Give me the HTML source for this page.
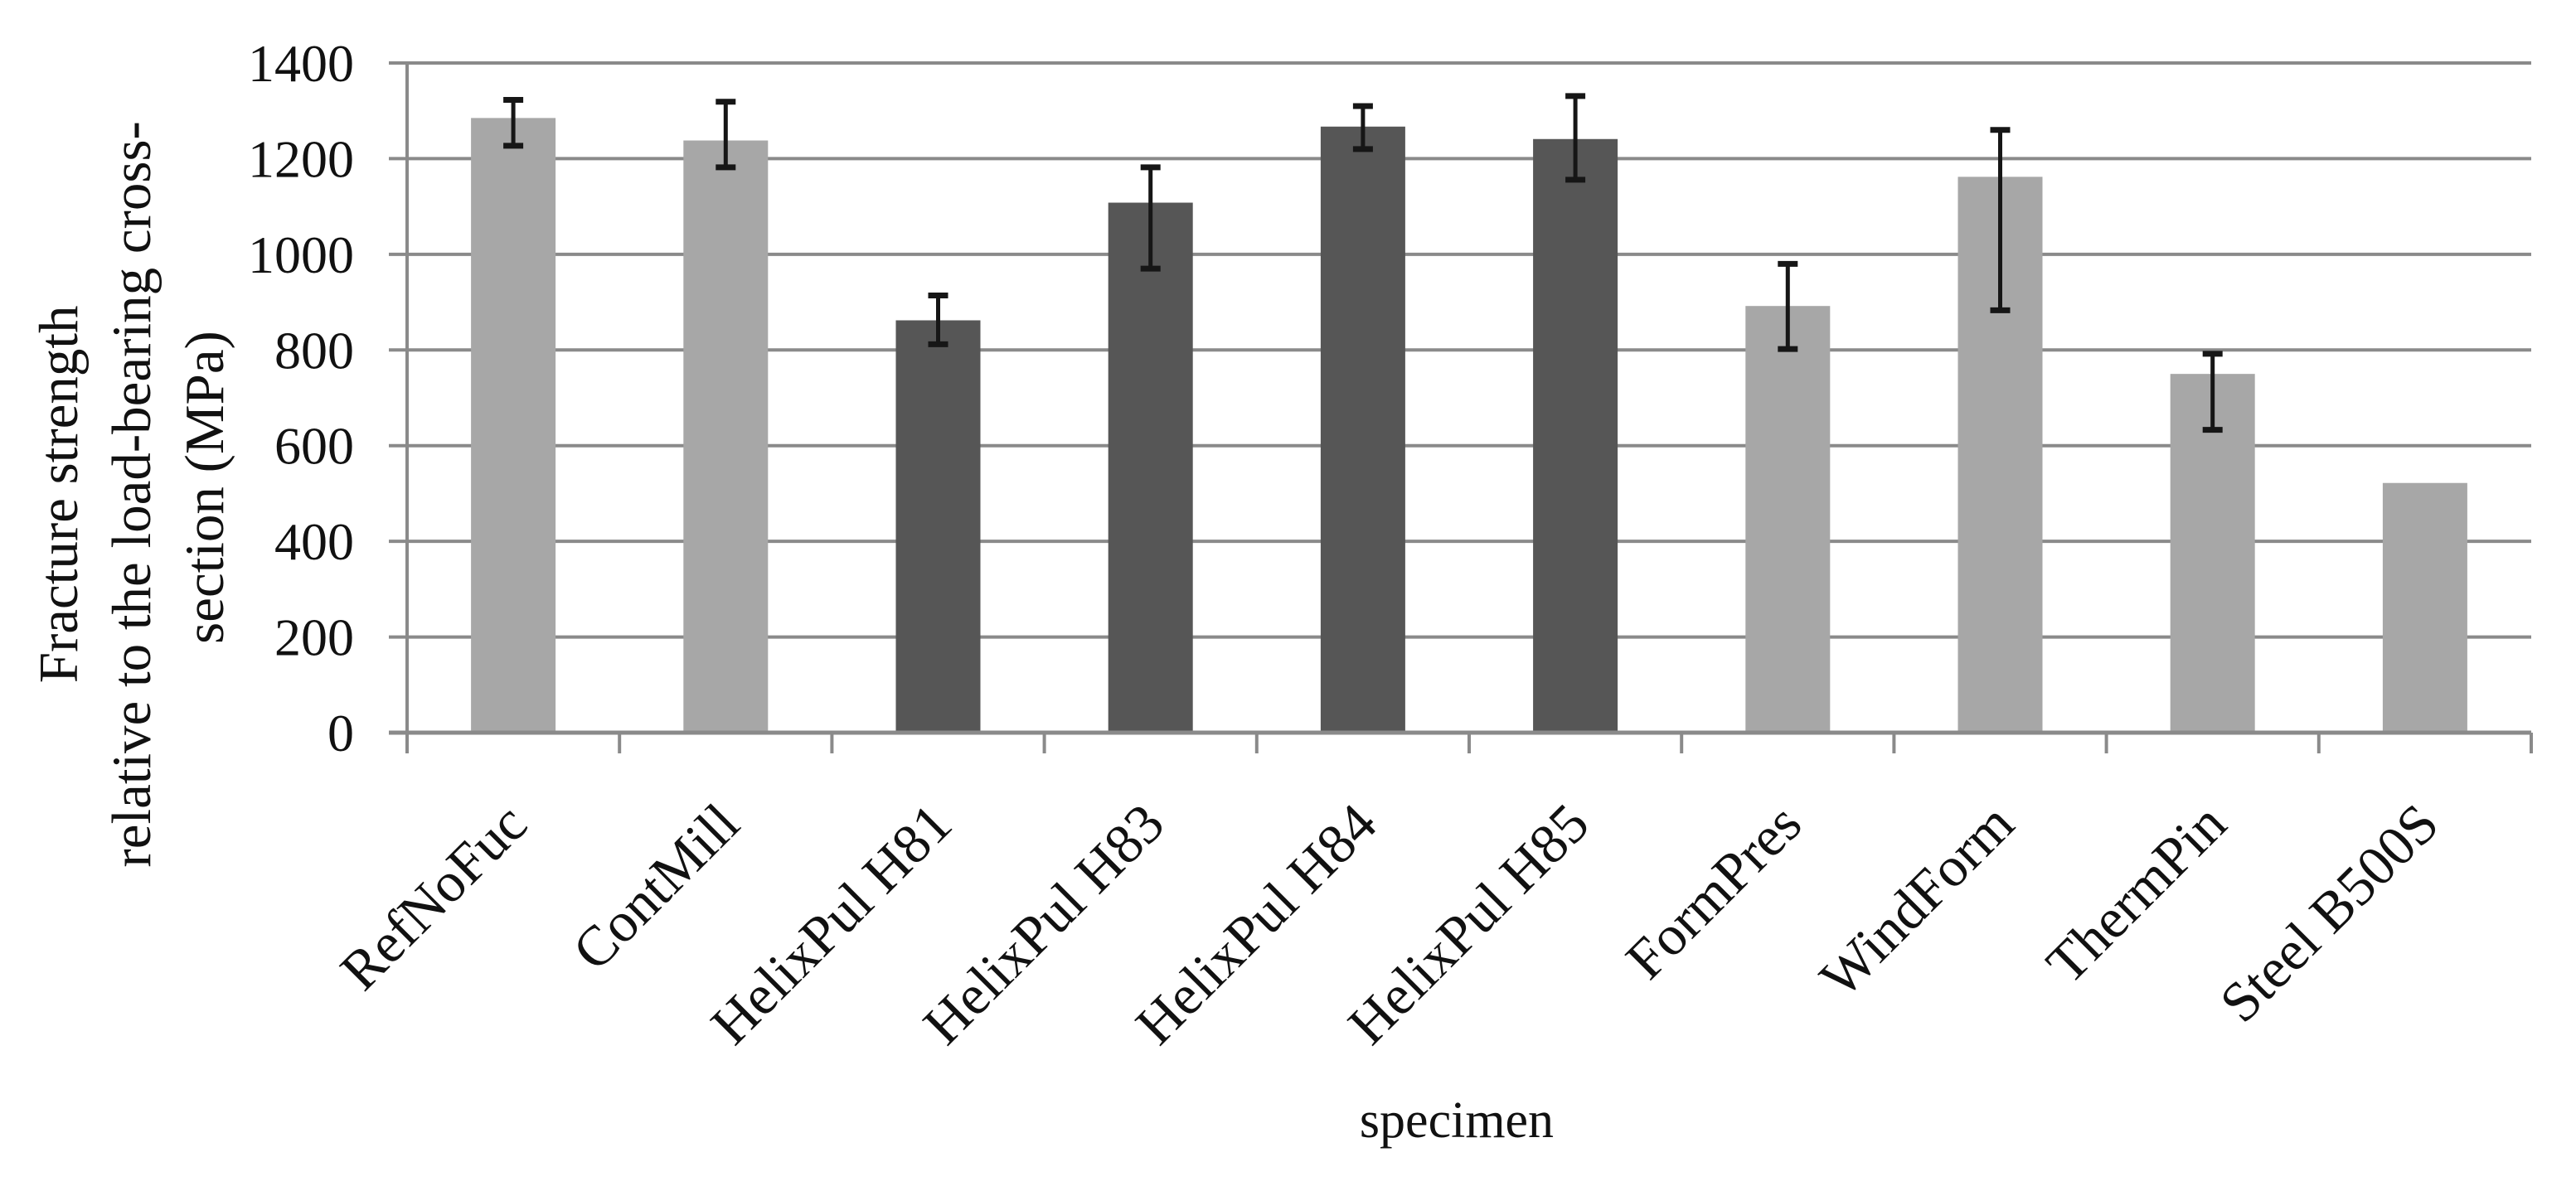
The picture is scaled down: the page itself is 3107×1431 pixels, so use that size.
<!DOCTYPE html>
<html><head><meta charset="utf-8"><style>
html,body{margin:0;padding:0;background:#fff;}
svg{display:block;}
text{font-family:"Liberation Serif",serif;fill:#111;}
</style></head><body>
<svg id="chart" width="3107" height="1431" viewBox="0 0 3107 1431" xmlns="http://www.w3.org/2000/svg">
<g id="grid"></g>
<g id="bars"></g>
<g id="errs"></g>
<g id="axes"></g>
<g id="ylabels"></g>
<g id="xlabels"></g>
<text transform="translate(181,588) rotate(-90)" text-anchor="middle" font-size="67">
<tspan x="0" dy="-88">Fracture strength</tspan>
<tspan x="0" dy="88">relative to the load-bearing cross-</tspan>
<tspan x="0" dy="88">section (MPa)</tspan>
</text>
<text x="1757" y="1372" text-anchor="middle" font-size="62">specimen</text>
</svg>
<script>
const categories = ["RefNoFuc","ContMill","HelixPul H81","HelixPul H83","HelixPul H84","HelixPul H85","FormPres","WindForm","ThermPin","Steel B500S"];
const values = [1285,1238,862,1108,1267,1241,892,1162,750,522];
const errHigh = [1323,1319,914,1182,1310,1331,980,1260,792,null];
const errLow = [1227,1182,812,970,1220,1156,802,883,633,null];
const darkFlags = [0,0,1,1,1,1,0,0,0,0];
const yTicks = [0,200,400,600,800,1000,1200,1400];

const NS="http://www.w3.org/2000/svg";
const X0=491, X1=3053, Y0=884, Y1=76, YMAX=1400;
const step=(X1-X0)/categories.length;
const xC=i=>X0+step*(i+0.5);
const yS=v=>Y0-(v/YMAX)*(Y0-Y1);
function mk(tag,attrs,parent){const e=document.createElementNS(NS,tag);for(const k in attrs)e.setAttribute(k,attrs[k]);parent.appendChild(e);return e;}
const grid=document.getElementById('grid'),bars=document.getElementById('bars'),errs=document.getElementById('errs'),axes=document.getElementById('axes'),yl=document.getElementById('ylabels'),xl=document.getElementById('xlabels');

yTicks.forEach(t=>{
  const y=yS(t);
  if(t>0){const g=mk('line',{x1:X0,x2:X1,y1:y,y2:y,stroke:'#8a8a8a','stroke-width':4},grid);
  
  }
  const tk=mk('line',{x1:469,x2:X0,y1:y,y2:y,stroke:'#8a8a8a','stroke-width':4},axes);
  
  
  const tx=mk('text',{x:427,y:y+22,'text-anchor':'end','font-size':64},yl);
  tx.textContent=t;
  
  
});

const BW=102;
categories.forEach((c,i)=>{
  const x=xC(i), y=yS(values[i]);
  const r=mk('rect',{x:x-BW/2,y:y,width:BW,height:Y0-y,fill:darkFlags[i]?'#565656':'#a7a7a7'},bars);
  
  
  if(errHigh[i]!=null){
    const g=mk('g',{stroke:'#161616','stroke-width':5},errs);
    
    
    const yh=yS(errHigh[i]), ylo=yS(errLow[i]);
    mk('line',{x1:x,x2:x,y1:yh,y2:ylo},g);
    mk('line',{x1:x-12,x2:x+12,y1:yh,y2:yh,'stroke-width':7},g);
    mk('line',{x1:x-12,x2:x+12,y1:ylo,y2:ylo,'stroke-width':7},g);
  }
  const ax0=x+20, ay0=998;
  const lab=mk('text',{x:ax0,y:ay0,'text-anchor':'end','font-size':68,transform:`rotate(-45 ${ax0} ${ay0})`},xl);
  lab.textContent=c;
  
  
});

const ax=mk('line',{x1:X0,x2:X0,y1:Y1,y2:909,stroke:'#8a8a8a','stroke-width':4},axes);


const bx=mk('line',{x1:X0-22,x2:X1,y1:Y0,y2:Y0,stroke:'#8a8a8a','stroke-width':5},axes);


for(let i=0;i<=categories.length;i++){
  const x=X0+step*i;
  const t=mk('line',{x1:x,x2:x,y1:Y0,y2:909,stroke:'#8a8a8a','stroke-width':4},axes);
  
  
}
</script>
</body></html>
